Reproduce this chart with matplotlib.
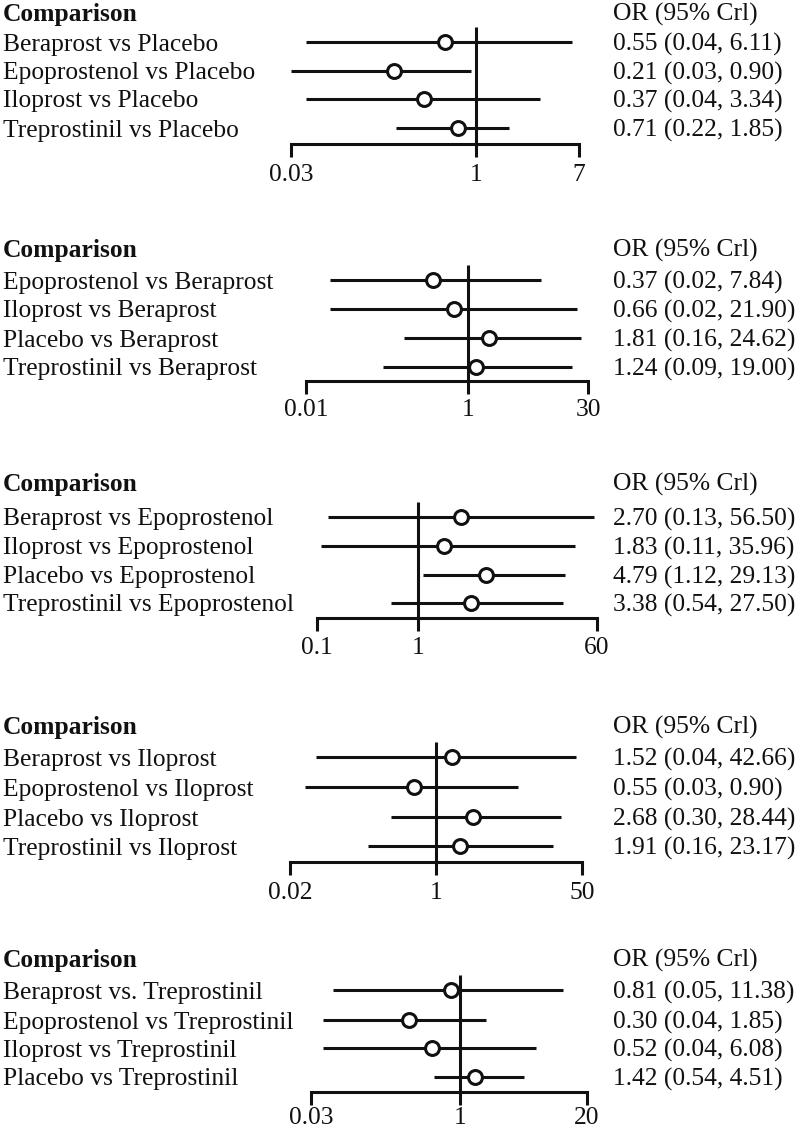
import matplotlib
matplotlib.use("Agg")
import matplotlib.pyplot as plt
from matplotlib.transforms import blended_transform_factory

plt.rcParams['font.family'] = ['Liberation Serif', 'DejaVu Serif']

# ---------------- data ----------------
p1_labels = ["Beraprost vs Placebo", "Epoprostenol vs Placebo", "Iloprost vs Placebo", "Treprostinil vs Placebo"]
p1_or = [0.55, 0.21, 0.37, 0.71]
p1_lo = [0.04, 0.03, 0.04, 0.22]
p1_hi = [6.11, 0.90, 3.34, 1.85]
p1_text = ["0.55 (0.04, 6.11)", "0.21 (0.03, 0.90)", "0.37 (0.04, 3.34)", "0.71 (0.22, 1.85)"]
p1_ticks = [0.03, 1, 7]
p1_ticklabels = ["0.03", "1", "7"]

p2_labels = ["Epoprostenol vs Beraprost", "Iloprost vs Beraprost", "Placebo vs Beraprost", "Treprostinil vs Beraprost"]
p2_or = [0.37, 0.66, 1.81, 1.24]
p2_lo = [0.02, 0.02, 0.16, 0.09]
p2_hi = [7.84, 21.90, 24.62, 19.00]
p2_text = ["0.37 (0.02, 7.84)", "0.66 (0.02, 21.90)", "1.81 (0.16, 24.62)", "1.24 (0.09, 19.00)"]
p2_ticks = [0.01, 1, 30]
p2_ticklabels = ["0.01", "1", "30"]

p3_labels = ["Beraprost vs Epoprostenol", "Iloprost vs Epoprostenol", "Placebo vs Epoprostenol", "Treprostinil vs Epoprostenol"]
p3_or = [2.70, 1.83, 4.79, 3.38]
p3_lo = [0.13, 0.11, 1.12, 0.54]
p3_hi = [56.50, 35.96, 29.13, 27.50]
p3_text = ["2.70 (0.13, 56.50)", "1.83 (0.11, 35.96)", "4.79 (1.12, 29.13)", "3.38 (0.54, 27.50)"]
p3_ticks = [0.1, 1, 60]
p3_ticklabels = ["0.1", "1", "60"]

p4_labels = ["Beraprost vs Iloprost", "Epoprostenol vs Iloprost", "Placebo vs Iloprost", "Treprostinil vs Iloprost"]
p4_or = [1.52, 0.55, 2.68, 1.91]
p4_lo = [0.04, 0.03, 0.30, 0.16]
p4_hi = [42.66, 9.0, 28.44, 23.17]
p4_text = ["1.52 (0.04, 42.66)", "0.55 (0.03, 0.90)", "2.68 (0.30, 28.44)", "1.91 (0.16, 23.17)"]
p4_ticks = [0.02, 1, 50]
p4_ticklabels = ["0.02", "1", "50"]

p5_labels = ["Beraprost vs. Treprostinil", "Epoprostenol vs Treprostinil", "Iloprost vs Treprostinil", "Placebo vs Treprostinil"]
p5_or = [0.81, 0.30, 0.52, 1.42]
p5_lo = [0.05, 0.04, 0.04, 0.54]
p5_hi = [11.38, 1.85, 6.08, 4.51]
p5_text = ["0.81 (0.05, 11.38)", "0.30 (0.04, 1.85)", "0.52 (0.04, 6.08)", "1.42 (0.54, 4.51)"]
p5_ticks = [0.03, 1, 20]
p5_ticklabels = ["0.03", "1", "20"]

header_left = "Comparison"
header_right = "OR (95% Crl)"

panels = [
    (p1_labels, p1_or, p1_lo, p1_hi, p1_text, p1_ticks, p1_ticklabels),
    (p2_labels, p2_or, p2_lo, p2_hi, p2_text, p2_ticks, p2_ticklabels),
    (p3_labels, p3_or, p3_lo, p3_hi, p3_text, p3_ticks, p3_ticklabels),
    (p4_labels, p4_or, p4_lo, p4_hi, p4_text, p4_ticks, p4_ticklabels),
    (p5_labels, p5_or, p5_lo, p5_hi, p5_text, p5_ticks, p5_ticklabels),
]

# ---------------- layout (pixels) ----------------
W, H = 800, 1128
x_lo_px = [291, 306, 317, 290, 311]
x_hi_px = [579, 588, 597, 582, 587]
header_px = [12, 248, 482, 725, 958]
rows_px = [[42, 71, 99, 128], [280, 309, 338, 367], [517, 546, 575, 603],
           [757, 787, 817, 846], [990, 1020, 1048, 1077]]
axis_px = [144, 381, 618, 862, 1092]
ticklab_px = [173, 408, 646, 890, 1115]

FS = 18.4
LW = 2.2
COL = '#111111'
BASE = 8.5  # baseline offset below line centre (px)
LEFT_X = 3
RIGHT_X = 613

fig = plt.figure(figsize=(W / 100, H / 100), dpi=100)
fig.patch.set_facecolor('white')

for i, (labels, orv, lo, hi, txt, ticks, ticklabels) in enumerate(panels):
    y_top = header_px[i] - 25
    y_bot = ticklab_px[i] + 25
    ax = fig.add_axes([x_lo_px[i] / W, 1 - y_bot / H,
                       (x_hi_px[i] - x_lo_px[i]) / W, (y_bot - y_top) / H])
    ax.set_xscale('log')
    ax.set_xlim(ticks[0], ticks[-1])
    ax.set_ylim(y_bot, y_top)
    ax.axis('off')

    tr = blended_transform_factory(fig.transFigure, ax.transData)
    ax.text(LEFT_X / W, header_px[i] + BASE, header_left, transform=tr,
            fontsize=FS, fontweight='bold', va='baseline', ha='left', color=COL)
    ax.text(RIGHT_X / W, header_px[i] + BASE, header_right, transform=tr,
            fontsize=FS, va='baseline', ha='left', color=COL)

    rows = rows_px[i]
    ay = axis_px[i]
    # reference line at 1
    ax.plot([1, 1], [rows[0] - 15, ay + 13], color=COL, lw=LW, clip_on=False,
            solid_capstyle='butt', zorder=2)
    # axis line and end ticks
    ax.plot([ticks[0], ticks[0], ticks[-1], ticks[-1]], [ay + 13, ay, ay, ay + 13],
            color=COL, lw=LW, clip_on=False, solid_joinstyle='miter',
            solid_capstyle='butt', zorder=2)
    for t, tl in zip(ticks, ticklabels):
        ax.text(t, ticklab_px[i] + BASE, tl, fontsize=FS, ha='center', va='baseline',
                color=COL, clip_on=False)

    for j in range(len(labels)):
        y = rows[j]
        ax.plot([lo[j], hi[j]], [y, y], color=COL, lw=LW, clip_on=False,
                solid_capstyle='butt', zorder=3)
        ax.plot([orv[j]], [y], marker='o', ms=10, mfc='white', mec=COL, mew=2.2,
                clip_on=False, zorder=4, linestyle='none')
        ax.text(LEFT_X / W, y + BASE, labels[j], transform=tr, fontsize=FS,
                va='baseline', ha='left', color=COL)
        ax.text(RIGHT_X / W, y + BASE, txt[j], transform=tr, fontsize=FS,
                va='baseline', ha='left', color=COL)

fig.savefig('out.png', dpi=100, facecolor='white')
